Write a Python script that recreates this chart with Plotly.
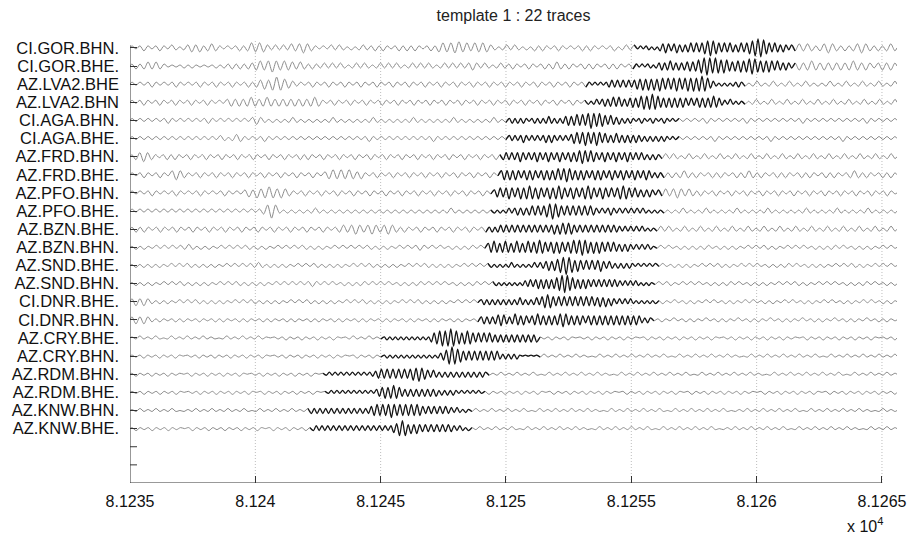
import plotly.graph_objects as go

# Station / channel names, top to bottom
channels = [
    "CI.GOR.BHN.", "CI.GOR.BHE.", "AZ.LVA2.BHE", "AZ.LVA2.BHN", "CI.AGA.BHN.", "CI.AGA.BHE.",
    "AZ.FRD.BHN.", "AZ.FRD.BHE.", "AZ.PFO.BHN.", "AZ.PFO.BHE.", "AZ.BZN.BHE.", "AZ.BZN.BHN.",
    "AZ.SND.BHE.", "AZ.SND.BHN.", "CI.DNR.BHE.", "CI.DNR.BHN.", "AZ.CRY.BHE.", "AZ.CRY.BHN.",
    "AZ.RDM.BHN.", "AZ.RDM.BHE.", "AZ.KNW.BHN.", "AZ.KNW.BHE.",
]

# Template window (seconds) for each channel
win_start = [81255.20, 81255.15, 81253.27, 81253.23, 81250.08, 81250.08, 81249.84, 81249.76,
             81249.48, 81249.48, 81249.28, 81249.24, 81249.36, 81249.56, 81248.96, 81248.96,
             81245.09, 81245.09, 81242.78, 81242.86, 81242.18, 81242.26]
win_end = [81261.45, 81261.45, 81259.45, 81259.45, 81256.82, 81256.82, 81256.14, 81256.22,
           81256.14, 81256.22, 81255.94, 81255.94, 81256.02, 81255.86, 81256.02, 81255.82,
           81251.28, 81251.28, 81249.24, 81249.08, 81248.56, 81248.56]

# Record span (seconds)
t_first, t_last = 81235.0, 81265.6

# Waveforms as successive half-cycle peak amplitudes (one digit per extreme, sign alternates)
noise_before = [
    "21232123213212" "34342343" "21212323" "5454" "323232" "434543" "21213232121232"
    "23232123232321232" "45455645354543" "212323212132321232121232321212312323",
    "2323434321" "1112121111121" "2232323" "3454565454" "4343232" "2323232123232123232321232"
    "3232123232323432321232" "23212321232343232123232123232123",
    "2121232121232121232123212321232" "34546765" "432" "21232123212321232123212321232"
    "1232123212321232123212321232123212321232123",
    "212321232123212321232121" "3434345434" "543434343434" "54" "212321232123212321232123212"
    "3212321232123212321232123212321232123212",
    "2121212123212121212321212121213432"
    "121212321212121232121212123212121212321212121232121212123212",
    "21212121212121212121213212432121" "23212121212121212121212121232121"
    "212121212123212121212121212121",
    "2345432123232123212321232123212" "3212321232123232123212321232123"
    "212321232123212321232123212321232",
    "2123212321" "4543" "2123212321232123212321232123212321" "3454545434"
    "2123212321232123212321232123212321",
    "2121232121232121232121232121" "343545654543"
    "21232123212321232123212321232123212321232123212321",
    "212121212121212121212121212121212" "3676"
    "212121212321212121212121212121212121212121232121212121",
    "2323212321232123212321232123212321232123212321232123" "43454345434543"
    "2321232123212321232123",
    "1212112121212232121211212121221212112121212212121121212121221212112121232121211212122121",
    "1212121211212122121212112121212232121212112121221212121121212212121211212122121212112121212",
    "1212121121212212121211212122121212112121212123212121121212212121211212122121212112121221212",
    "3434321212112121221212121121212212121211212122121212112121221212121121212212121211212121",
    "3434321211121211121112121112121112121112121112121112121112121112121112121112121112121112",
    "1121112101211121112111012111211121101112111211121112101121112111",
    "1112111211121011121112111211121112101112111211121112111012111211",
    "1211121112111012111211121112101112111211121112101",
    "1112111211121011121112111211121012111211121112101",
    "112111211121011121112111211121012111211121112",
    "121112111211101211121112111211121012111211121",
]

template_wave = [
    "12122121" "34543453434545" "456787" "654545434545" "6789986" "545434323",
    "21212212" "3434543434" "45456" "7898787" "676545" "5656787656" "5654543432",
    "2121212" "34343434345" "565656576565676567676" "7876" "432121212232",
    "21232" "3434545434" "4545676" "7876545" "4545454" "3434545" "4565432" "232121",
    "2323232123232343232" "345456565" "7876765" "45434" "23232123212321232121",
    "3232343232323434323232" "45656765676" "45434543434343" "3232323232121",
    "3434345434345434543454345" "456765654" "3454345434543434323232",
    "45454543454543454545" "65676545" "4543454543454345434543" "4543232",
    "3454565456" "5676565456" "5676545654" "5676545654" "5456765454" "3434323",
    "2121232" "3434345454" "56787" "6545454545454" "3232343232323232" "3212121",
    "2323434343434343434343" "45456565" "4343434343434343" "3232323232121",
    "4565456545654565" "5676545656545676" "7876" "5656545454" "3434323232321",
    "212121232121212323" "3454567" "8987" "5654545456" "4343232323212121212",
    "212121212123" "343454545456" "789" "8765" "4545434343434343" "3232323212121",
    "2323232323232343232343" "5676" "5454545454545454" "4545343" "232323212121212",
    "343434565434" "6545434565" "4545456765" "4545434545454545454545" "4543232",
    "12121212121212121" "456787898765676" "5454545" "43434343434343434",
    "12121212121212121212" "3468987" "65454545454545" "3232323" "1010101",
    "1212121212121212" "2345" "454545" "45456" "676" "5434323232323232323232",
    "12121212121212121" "34565" "6765" "4343434343434" "2323232121212121",
    "323232323232323232323" "456565676565656565" "4343434343" "3232121",
    "2323232323232323232323232323" "45787" "4545434343434343" "323212",
]

noise_after = [
    "3434323454323234543232343",
    "3434543434343454343234343",
    "21232123212321232121232123212321232123",
    "2123212321232123212321232123212321232123",
    "2121212321212121232121212121212321212121212121232121212",
    "2121212123212121212121232121212121212121232121212121212",
    "2323212321232123212321232123212321232123212321232123212321232",
    "3232343232123232123234323212323212323212323212343232123232",
    "3434543432321232123212321232123212321232123212321232123212321",
    "2121232121232121212321212123212121212321212123212121232121212",
    "2323212321232123212321232123212321232123212321232123212321232",
    "1212112121212211212121121212212112121211212122121121212112121",
    "1211212121121212212112121211212122121121212112121221211212121",
    "1212211212121121212212112121211212122121121212112121221211212",
    "1211211212112121121211212112121121211212112121121211212112121",
    "1121121121211211212112112121121121211211212112112121121121211",
    "111211121011121112111211101211121112111211121011121112111211121110121112111211121112101112",
    "121112111211101211121112111211121012111211121112111012111211121112111210121112111211121112",
    "111211121112101211121112111211101211121112111211121012111211121112111012111211121112111210121112111211",
    "121112111211121012111211121112111012111211121112101211121112111211101211121112111210121112111211121112",
    "12111211121112101211121112111211101211121112111210121112111211121011121112111211121012111211121112111012111",
    "11211121112101211121112111211101211121112111210121112111211121011121112111211121012111211121112111012111211",
]

x_ticks = [81235, 81240, 81245, 81250, 81255, 81260, 81265]
x_tick_text = ["8.1235", "8.124", "8.1245", "8.125", "8.1255", "8.126", "8.1265"]
blank_y_ticks = [1, 2]

UNIT = 1.0 / 18.0          # one amplitude step, in trace-spacing units
GRAY = "#8a8a8a"
DARK = "#141414"
AXIS = "#333333"
FONT = "Liberation Sans, Arial, Helvetica, sans-serif"
PLOT_W, PLOT_H = 767, 446

n = len(channels)
offsets = [n + 2 - i for i in range(n)]   # 24 (top) ... 3 (bottom)

fig = go.Figure()

for i, name in enumerate(channels):
    base = offsets[i]
    xs, ys, part = [t_first], [base], [0]
    sign = 1
    segments = [
        (t_first, win_start[i], noise_before[i]),
        (win_start[i], win_end[i], template_wave[i]),
        (win_end[i], t_last, noise_after[i]),
    ]
    for p, (ta, tb, s) in enumerate(segments):
        step = (tb - ta) / len(s)
        for k, ch in enumerate(s):
            xs.append(ta + (k + 0.5) * step)
            ys.append(base + sign * int(ch) * UNIT)
            part.append(p)
            sign = -sign
    xs.append(t_last)
    ys.append(base)
    part.append(2)

    i0 = part.index(1)
    i1 = len(part) - 1 - part[::-1].index(1)

    gx = xs[:i0 + 1] + [None] + xs[i1:]
    gy = ys[:i0 + 1] + [None] + ys[i1:]
    fig.add_trace(go.Scatter(
        x=gx, y=gy, mode="lines", connectgaps=False,
        line=dict(color=GRAY, width=1, shape="spline", smoothing=0.8),
        hoverinfo="skip", showlegend=False,
    ))
    fig.add_trace(go.Scatter(
        x=xs[i0 - 1:i1 + 2], y=ys[i0 - 1:i1 + 2], mode="lines",
        line=dict(color=DARK, width=1.3, shape="spline", smoothing=0.8),
        hoverinfo="skip", showlegend=False,
    ))

shapes = []
# dotted vertical grid
for xv in x_ticks[1:]:
    shapes.append(dict(type="line", xref="x", yref="y", x0=xv, x1=xv, y0=0, y1=24.4,
                       line=dict(color="#bdbdbd", width=1, dash="1px,2px"), layer="below"))
# axis lines
shapes.append(dict(type="line", xref="x", yref="y", x0=x_ticks[0], x1=x_ticks[-1], y0=0, y1=0,
                   line=dict(color=AXIS, width=1)))
shapes.append(dict(type="line", xref="x", yref="y", x0=x_ticks[0], x1=x_ticks[0], y0=0, y1=24.15,
                   line=dict(color=AXIS, width=1)))
# unlabeled ticks below the last trace
for yv in blank_y_ticks:
    shapes.append(dict(type="line", xref="paper", yref="y", x0=0, x1=7 / PLOT_W, y0=yv, y1=yv,
                       line=dict(color=AXIS, width=1)))

fig.update_layout(
    width=912, height=537,
    margin=dict(l=130, r=15, t=37, b=54, autoexpand=False),
    paper_bgcolor="white", plot_bgcolor="white",
    font=dict(family=FONT, size=16, color="#111111"),
    title=dict(text="template 1 : 22 traces", x=0.5, xref="paper", xanchor="center",
               y=1 - 15 / 537, yref="container", yanchor="middle",
               font=dict(family=FONT, size=16, color="#222222")),
    shapes=shapes,
    showlegend=False,
)

fig.update_xaxes(
    range=[t_first, t_last], tickmode="array", tickvals=x_ticks, ticktext=x_tick_text,
    ticks="inside", ticklen=7, tickwidth=1, tickcolor=AXIS,
    showline=False, showgrid=False, zeroline=False, automargin=False,
    ticklabelstandoff=7,
    tickfont=dict(family=FONT, size=16, color="#111111"),
)
fig.update_yaxes(
    range=[0, 24.6], tickmode="array",
    tickvals=offsets, ticktext=channels,
    ticks="inside", ticklen=7, tickwidth=1, tickcolor=AXIS,
    showline=False, showgrid=False, zeroline=False, automargin=False,
    ticklabelstandoff=10,
    tickfont=dict(family=FONT, size=16.5, color="#111111"),
)

fig.add_annotation(
    text="x 10<sup>4</sup>", xref="paper", yref="paper",
    x=(865 - 130) / PLOT_W, y=(483 - 525) / PLOT_H, xanchor="center", yanchor="middle",
    showarrow=False, font=dict(family=FONT, size=16, color="#111111"),
)

fig.write_html("out.html")
